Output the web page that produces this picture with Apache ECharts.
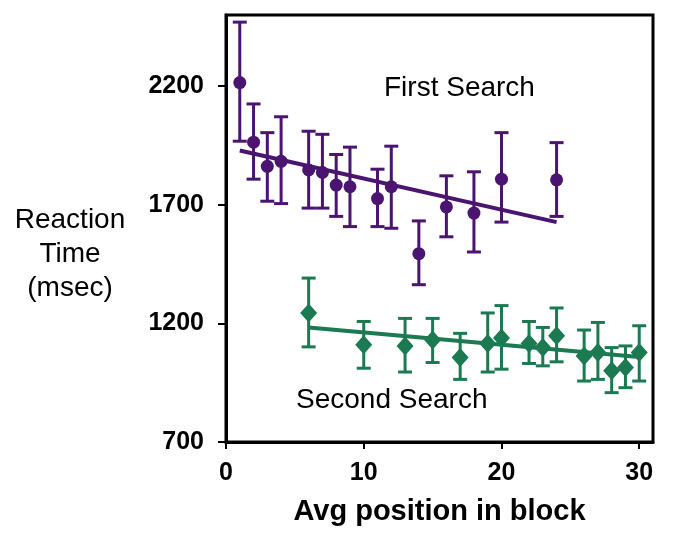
<!DOCTYPE html>
<html>
<head>
<meta charset="utf-8">
<script src="https://cdn.jsdelivr.net/npm/echarts@6/dist/echarts.min.js"></script>
<style>
  html, body { margin: 0; padding: 0; background: #fff; }
  #chart { width: 673px; height: 540px; }
</style>
</head>
<body>
<div id="chart"></div>
<script>
// First search (purple circles)
const firstX    = [1, 2, 3, 4, 6, 7, 8, 9, 11, 12, 14, 16, 18, 20, 24];
const firstMean = [2215, 1964, 1862, 1883, 1847, 1836, 1783, 1776, 1726, 1776, 1494, 1691, 1665, 1808, 1805];
const firstLow  = [1968, 1808, 1715, 1705, 1686, 1686, 1651, 1608, 1608, 1601, 1363, 1565, 1501, 1627, 1651];
const firstHigh = [2470, 2125, 2004, 2071, 2010, 1997, 1912, 1943, 1850, 1947, 1632, 1822, 1839, 2004, 1962];
const firstFit  = [[1, 1929], [24, 1627]];

// Second search (green diamonds)
const secondX    = [6, 10, 13, 15, 17, 19, 20, 22, 23, 24, 26, 27, 28, 29, 30];
const secondMean = [1244, 1110, 1105, 1130, 1056, 1115, 1138, 1115, 1098, 1148, 1063, 1077, 1000, 1014, 1077];
const secondLow  = [1101, 1011, 995, 1035, 964, 995, 1007, 1031, 1021, 1038, 957, 964, 908, 929, 957];
const secondHigh = [1391, 1208, 1221, 1221, 1158, 1244, 1275, 1208, 1183, 1265, 1172, 1204, 1098, 1105, 1190];
const secondFit  = [[6, 1183], [30, 1058]];

const xTicks = [0, 10, 20, 30];
const yTicks = [700, 1200, 1700, 2200];

const purple = '#4a1470';
const green = '#1b7a52';
const font = 'Liberation Sans, Arial, sans-serif';

let myChart = echarts.init(document.getElementById('chart'));

function errorBars (color) {
    return function (params, api) {
        const top = api.coord([api.value(0), api.value(2)]);
        const bot = api.coord([api.value(0), api.value(1)]);
        const w = 7;
        const style = { stroke: color, lineWidth: 3 };
        return {
            type: 'group',
            children: [
                { type: 'line', shape: { x1: top[0], y1: top[1], x2: bot[0], y2: bot[1] }, style: style },
                { type: 'line', shape: { x1: top[0] - w, y1: top[1], x2: top[0] + w, y2: top[1] }, style: style },
                { type: 'line', shape: { x1: bot[0] - w, y1: bot[1], x2: bot[0] + w, y2: bot[1] }, style: style }
            ]
        };
    };
}

const zip = (xs, ys) => xs.map((x, i) => [x, ys[i]]);
const zip3 = (xs, a, b) => xs.map((x, i) => [x, a[i], b[i]]);

let option = {
    animation: false,
    grid: {
        left: 226, right: 20, top: 15, bottom: 98,
        show: true, borderColor: '#000', borderWidth: 3
    },
    xAxis: {
        type: 'value',
        min: 0, max: 31,
        splitLine: { show: false },
        axisLine: { lineStyle: { color: '#000', width: 3 } },
        axisTick: { customValues: xTicks, length: 7, lineStyle: { color: '#000', width: 2 } },
        axisLabel: {
            customValues: xTicks, margin: 19,
            color: '#000', fontSize: 25, fontWeight: 'bold', fontFamily: font
        },
        name: 'Avg position in block',
        nameLocation: 'middle',
        nameGap: 55,
        nameTextStyle: { color: '#000', fontSize: 29, fontWeight: 'bold', fontFamily: font }
    },
    yAxis: {
        type: 'value',
        min: 700, max: 2500,
        splitLine: { show: false },
        axisLine: { lineStyle: { color: '#000', width: 3 } },
        axisTick: { customValues: yTicks, length: 8, lineStyle: { color: '#000', width: 2 } },
        axisLabel: {
            customValues: yTicks, margin: 22,
            formatter: (v) => String(v),
            color: '#000', fontSize: 25, fontWeight: 'bold', fontFamily: font
        }
    },
    graphic: [
        {
            type: 'text',
            style: {
                text: 'Reaction\nTime\n(msec)', x: 70, y: 203,
                textAlign: 'center', fill: '#000',
                font: '28px ' + font, lineHeight: 34
            }
        },
        {
            type: 'text',
            style: { text: 'First Search', x: 384, y: 74, fill: '#000', font: '28px ' + font }
        },
        {
            type: 'text',
            style: { text: 'Second Search', x: 296, y: 386, fill: '#000', font: '28px ' + font }
        }
    ],
    series: [
        {
            type: 'custom', renderItem: errorBars(purple),
            data: zip3(firstX, firstLow, firstHigh), silent: true, z: 2
        },
        {
            type: 'line', data: firstFit, symbol: 'none', silent: true,
            lineStyle: { color: purple, width: 4 }, z: 3
        },
        {
            type: 'scatter', data: zip(firstX, firstMean), symbol: 'circle', symbolSize: 13,
            itemStyle: { color: purple, opacity: 1 }, silent: true, z: 4
        },
        {
            type: 'custom', renderItem: errorBars(green),
            data: zip3(secondX, secondLow, secondHigh), silent: true, z: 2
        },
        {
            type: 'line', data: secondFit, symbol: 'none', silent: true,
            lineStyle: { color: green, width: 4 }, z: 3
        },
        {
            type: 'scatter', data: zip(secondX, secondMean), symbol: 'diamond', symbolSize: [17, 19],
            itemStyle: { color: green, opacity: 1 }, silent: true, z: 4
        }
    ]
};

myChart.setOption(option);
</script>
</body>
</html>
